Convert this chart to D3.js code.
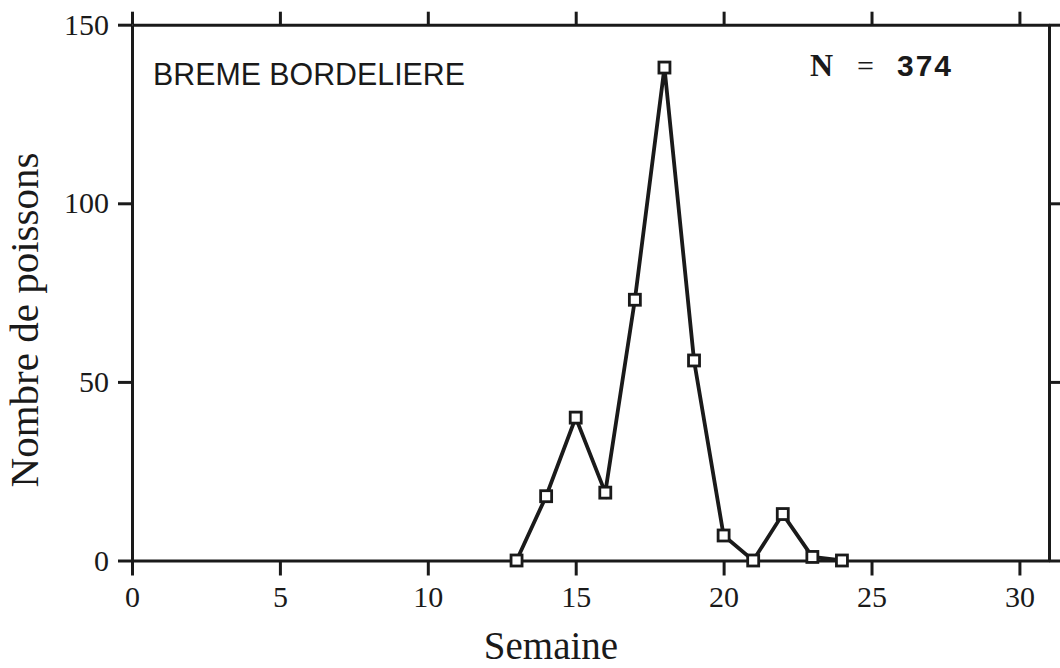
<!DOCTYPE html>
<html>
<head>
<meta charset="utf-8">
<script src="https://cdn.jsdelivr.net/npm/d3@7"></script>
<style>
  body { margin: 0; background: #fff; }
  svg { display: block; }
</style>
</head>
<body>
<svg id="chart" width="1060" height="668"></svg>
<script>
// Weekly catch of bream (Blicca bjoerkna)
const weeks  = [13, 14, 15, 16, 17, 18, 19, 20, 21, 22, 23, 24];
const counts = [0, 18, 40, 19, 73, 138, 56, 7, 0, 13, 1, 0];

const xTicks = [0, 5, 10, 15, 20, 25, 30];
const yTicks = [0, 50, 100, 150];

const speciesLabel = "BREME BORDELIERE";
const totalLabel = "374";
const xTitle = "Semaine";
const yTitle = "Nombre de poissons";

const ink = "#1a1a1a";
const serif = "'Liberation Serif', 'Times New Roman', serif";
const sans = "'Liberation Sans', Arial, Helvetica, sans-serif";

const svg = d3.select("#chart");
const plotLeft = 132, plotRight = 1049, plotTop = 24.7, plotBottom = 560.5;

const x = d3.scaleLinear().domain([0, 31]).range([plotLeft, plotRight]);
const y = d3.scaleLinear().domain([0, 150]).range([plotBottom, plotTop]);

function styleAxis(g) {
  g.selectAll(".domain").attr("stroke", ink).attr("stroke-width", 3);
  g.selectAll(".tick line").attr("stroke", ink).attr("stroke-width", 3);
  g.selectAll(".tick text")
    .attr("fill", ink)
    .style("font-family", serif)
    .style("font-size", "30px");
}

// Frame: top and right axes carry ticks only
svg.append("g")
  .attr("transform", `translate(0,${plotTop})`)
  .call(d3.axisTop(x).tickValues(xTicks).tickSize(13).tickSizeOuter(0).tickFormat(""))
  .call(styleAxis);

svg.append("g")
  .attr("transform", `translate(${plotRight},0)`)
  .call(d3.axisRight(y).tickValues(yTicks).tickSize(14).tickSizeOuter(0).tickFormat(""))
  .call(styleAxis);

// Bottom axis with labels
const gx = svg.append("g")
  .attr("transform", `translate(0,${plotBottom})`)
  .call(d3.axisBottom(x).tickValues(xTicks).tickSize(15).tickSizeOuter(0))
  .call(styleAxis);
gx.selectAll(".tick text").attr("y", 46).attr("dy", 0);

// Left axis with labels
const gy = svg.append("g")
  .attr("transform", `translate(${plotLeft},0)`)
  .call(d3.axisLeft(y).tickValues(yTicks).tickSize(14).tickSizeOuter(0))
  .call(styleAxis);
gy.selectAll(".tick text").attr("x", -23);

// Data series
const data = weeks.map((w, i) => ({ w, v: counts[i] }));

svg.append("path")
  .datum(data)
  .attr("fill", "none")
  .attr("stroke", ink)
  .attr("stroke-width", 3.8)
  .attr("d", d3.line().x(d => x(d.w)).y(d => y(d.v)));

const m = 11;
svg.append("g")
  .selectAll("rect")
  .data(data)
  .join("rect")
  .attr("x", d => x(d.w) - m / 2)
  .attr("y", d => y(d.v) - m / 2)
  .attr("width", m)
  .attr("height", m)
  .attr("fill", "#fff")
  .attr("stroke", ink)
  .attr("stroke-width", 2.8);

// Species name
svg.append("text")
  .attr("x", 153)
  .attr("y", 85)
  .attr("fill", ink)
  .attr("textLength", 312)
  .attr("lengthAdjust", "spacingAndGlyphs")
  .style("font-family", sans)
  .style("font-size", "31px")
  .text(speciesLabel);

// Sample size
const nText = svg.append("text")
  .attr("y", 76)
  .attr("fill", ink);
nText.append("tspan")
  .attr("x", 810)
  .style("font-family", serif)
  .style("font-weight", "bold")
  .style("font-size", "32px")
  .text("N");
nText.append("tspan")
  .attr("x", 857)
  .style("font-family", serif)
  .style("font-size", "30px")
  .text("=");
nText.append("tspan")
  .attr("x", 897)
  .style("font-family", sans)
  .style("font-weight", "bold")
  .style("font-size", "30px")
  .style("letter-spacing", "2px")
  .text(totalLabel);

// Axis titles
svg.append("text")
  .attr("x", 551)
  .attr("y", 659)
  .attr("text-anchor", "middle")
  .attr("fill", ink)
  .style("font-family", serif)
  .style("font-size", "39px")
  .text(xTitle);

svg.append("text")
  .attr("transform", "translate(38,320) rotate(-90)")
  .attr("text-anchor", "middle")
  .attr("fill", ink)
  .style("font-family", serif)
  .style("font-size", "41px")
  .text(yTitle);
</script>
</body>
</html>
